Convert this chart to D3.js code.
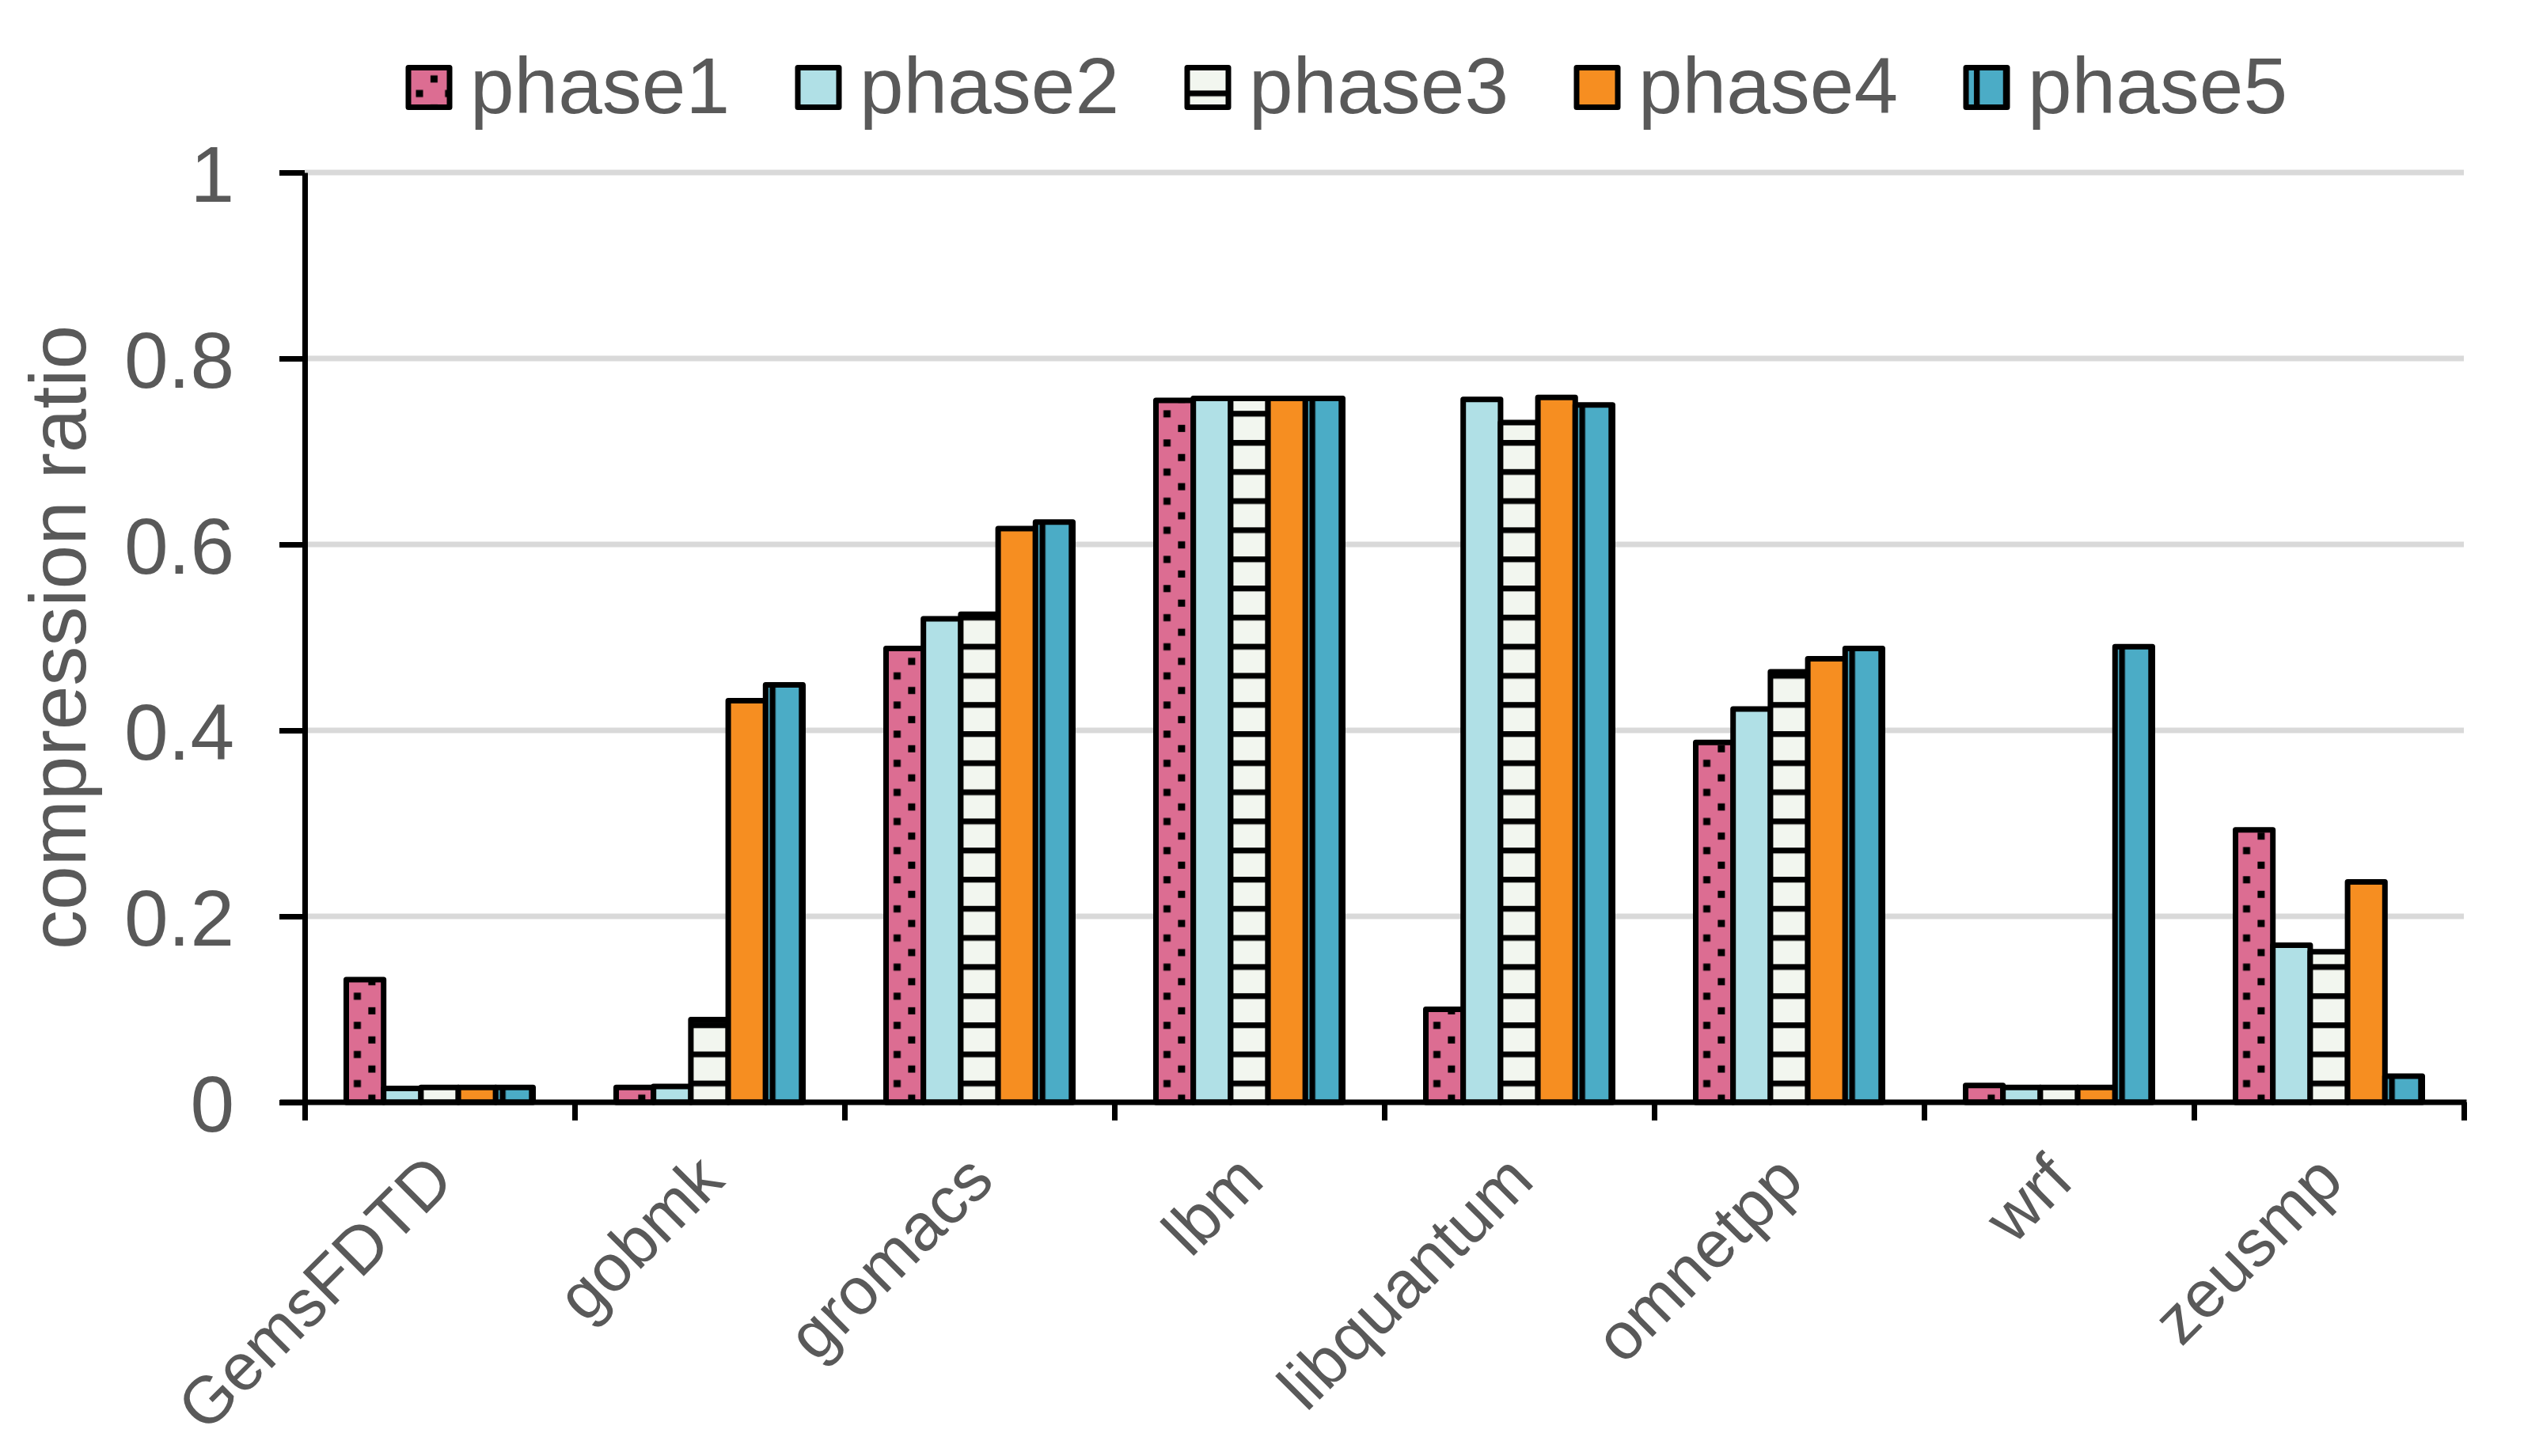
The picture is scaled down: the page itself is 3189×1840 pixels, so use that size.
<!DOCTYPE html>
<html>
<head>
<meta charset="utf-8">
<script src="https://cdn.jsdelivr.net/npm/d3@7"></script>
<style>
  body { margin: 0; background: #fff; }
  text { font-family: "Liberation Sans", Arial, sans-serif; }
</style>
</head>
<body>
<svg id="chart"></svg>
<script>
const width = 3189, height = 1840;
const margin = { top: 218, right: 76, bottom: 447, left: 385 };
const plotWidth = width - margin.left - margin.right;
const plotHeight = height - margin.top - margin.bottom;

// Chart data
const categories = ["GemsFDTD", "gobmk", "gromacs", "lbm", "libquantum", "omnetpp", "wrf", "zeusmp"];
const phases = ["phase1", "phase2", "phase3", "phase4", "phase5"];
const phase1 = [0.132, 0.016, 0.488, 0.755, 0.100, 0.387, 0.018, 0.293];
const phase2 = [0.015, 0.017, 0.520, 0.757, 0.756, 0.423, 0.016, 0.169];
const phase3 = [0.016, 0.089, 0.525, 0.757, 0.731, 0.463, 0.016, 0.162];
const phase4 = [0.016, 0.432, 0.617, 0.757, 0.758, 0.477, 0.016, 0.237];
const phase5 = [0.016, 0.449, 0.624, 0.757, 0.750, 0.488, 0.490, 0.028];
const yTicks = [0, 0.2, 0.4, 0.6, 0.8, 1];
const series = [phase1, phase2, phase3, phase4, phase5];

const colors = ["#dc6d92", "#b0e0e6", "#f2f6ef", "#f68e21", "#4bacc6"];
const textColor = "#595959";
const stroke = 7;

const svg = d3.select("#chart")
    .attr("width", width)
    .attr("height", height)
    .attr("viewBox", [0, 0, width, height]);

// Fill patterns (global, user space so they line up across bars)
const defs = svg.append("defs");
const tile = 36.8;

function makePattern(id, color) {
    const p = defs.append("pattern").attr("id", id)
        .attr("patternUnits", "userSpaceOnUse")
        .attr("width", tile).attr("height", tile);
    p.append("rect").attr("width", tile).attr("height", tile).attr("fill", color);
    return p;
}

const dots = makePattern("pat1", colors[0]);
[[14, 7.8], [32.4, 26.2], [-4.4, 26.2]].forEach(([cx, cy]) => {
    dots.append("rect").attr("x", cx - 4.5).attr("y", cy - 4.5)
        .attr("width", 9).attr("height", 9).attr("fill", "#000");
});
makePattern("pat2", colors[1]);
makePattern("pat3", colors[2])
    .append("rect").attr("x", 0).attr("y", 4).attr("width", tile).attr("height", 7.3).attr("fill", "#000");
makePattern("pat4", colors[3]);
makePattern("pat5", colors[4])
    .append("rect").attr("x", 10).attr("y", 0).attr("width", 7.3).attr("height", tile).attr("fill", "#000");

const fills = phases.map((p, i) => `url(#pat${i + 1})`);

// Scales
const x0 = d3.scaleBand().domain(categories).range([margin.left, margin.left + plotWidth]);
const groupWidth = 236;
const x1 = d3.scaleBand().domain(phases).range([0, groupWidth]);
const xEdge = d3.scaleLinear().domain([0, categories.length]).range([margin.left, margin.left + plotWidth]);
const y = d3.scaleLinear().domain([0, 1]).range([margin.top + plotHeight, margin.top]);

// Gridlines
svg.append("g")
    .selectAll("line")
    .data(yTicks.filter(d => d > 0))
    .join("line")
    .attr("x1", margin.left)
    .attr("x2", margin.left + plotWidth)
    .attr("y1", d => y(d))
    .attr("y2", d => y(d))
    .attr("stroke", "#d9d9d9")
    .attr("stroke-width", 7);

// Bars
const groups = svg.append("g")
    .selectAll("g")
    .data(categories)
    .join("g")
    .attr("transform", d => `translate(${x0(d) + (x0.bandwidth() - groupWidth) / 2},0)`);

groups.selectAll("rect")
    .data((c, ci) => phases.map((p, pi) => ({ phase: p, index: pi, value: series[pi][ci] })))
    .join("rect")
    .attr("x", d => x1(d.phase))
    .attr("width", x1.bandwidth())
    .attr("y", d => y(d.value))
    .attr("height", d => y(0) - y(d.value))
    .attr("fill", d => fills[d.index])
    .attr("stroke", "#000")
    .attr("stroke-width", stroke)
    .attr("stroke-linejoin", "round");

// Y axis
const yAxis = svg.append("g")
    .attr("transform", `translate(${margin.left},0)`)
    .call(d3.axisLeft(y)
        .tickValues(yTicks)
        .tickSize(32)
        .tickSizeOuter(0)
        .tickPadding(57)
        .tickFormat(d => d === 0 ? "0" : d === 1 ? "1" : d3.format(".1f")(d)));
yAxis.select(".domain").attr("stroke", "#000").attr("stroke-width", stroke);
yAxis.selectAll(".tick line").attr("stroke", "#000").attr("stroke-width", stroke);
yAxis.selectAll(".tick text")
    .attr("font-size", 100)
    .attr("fill", textColor)
    .attr("dy", "0.36em");

// X axis (ticks at category boundaries)
const xAxis = svg.append("g")
    .attr("transform", `translate(0,${y(0)})`)
    .call(d3.axisBottom(xEdge)
        .tickValues(d3.range(categories.length + 1))
        .tickSize(23)
        .tickSizeOuter(0)
        .tickFormat(""));
xAxis.select(".domain").attr("stroke", "#000").attr("stroke-width", stroke)
    .attr("d", `M${margin.left - 31},0H${margin.left + plotWidth + 3.5}`);
xAxis.selectAll(".tick line").attr("stroke", "#000").attr("stroke-width", stroke);

// Category labels, rotated
svg.append("g")
    .selectAll("text")
    .data(categories)
    .join("text")
    .attr("transform", d => `translate(${x0(d) + x0.bandwidth() / 2},1474) rotate(-45)`)
    .attr("text-anchor", "end")
    .attr("dy", "0.36em")
    .attr("font-size", 84)
    .attr("fill", textColor)
    .text(d => d);

// Y axis title
svg.append("text")
    .attr("transform", `translate(108,${margin.top + plotHeight / 2}) rotate(-90)`)
    .attr("text-anchor", "middle")
    .attr("font-size", 100)
    .attr("fill", textColor)
    .text("compression ratio");

// Legend
const legend = svg.append("g")
    .selectAll("g")
    .data(phases)
    .join("g")
    .attr("transform", (d, i) => `translate(${516 + i * 492},0)`);

legend.append("rect")
    .attr("x", 0)
    .attr("y", 85.5)
    .attr("width", 52)
    .attr("height", 50)
    .attr("fill", (d, i) => fills[i])
    .attr("stroke", "#000")
    .attr("stroke-width", stroke)
    .attr("stroke-linejoin", "round");

legend.append("text")
    .attr("x", 78)
    .attr("y", 143)
    .attr("font-size", 100)
    .attr("fill", textColor)
    .text(d => d);
</script>
</body>
</html>
